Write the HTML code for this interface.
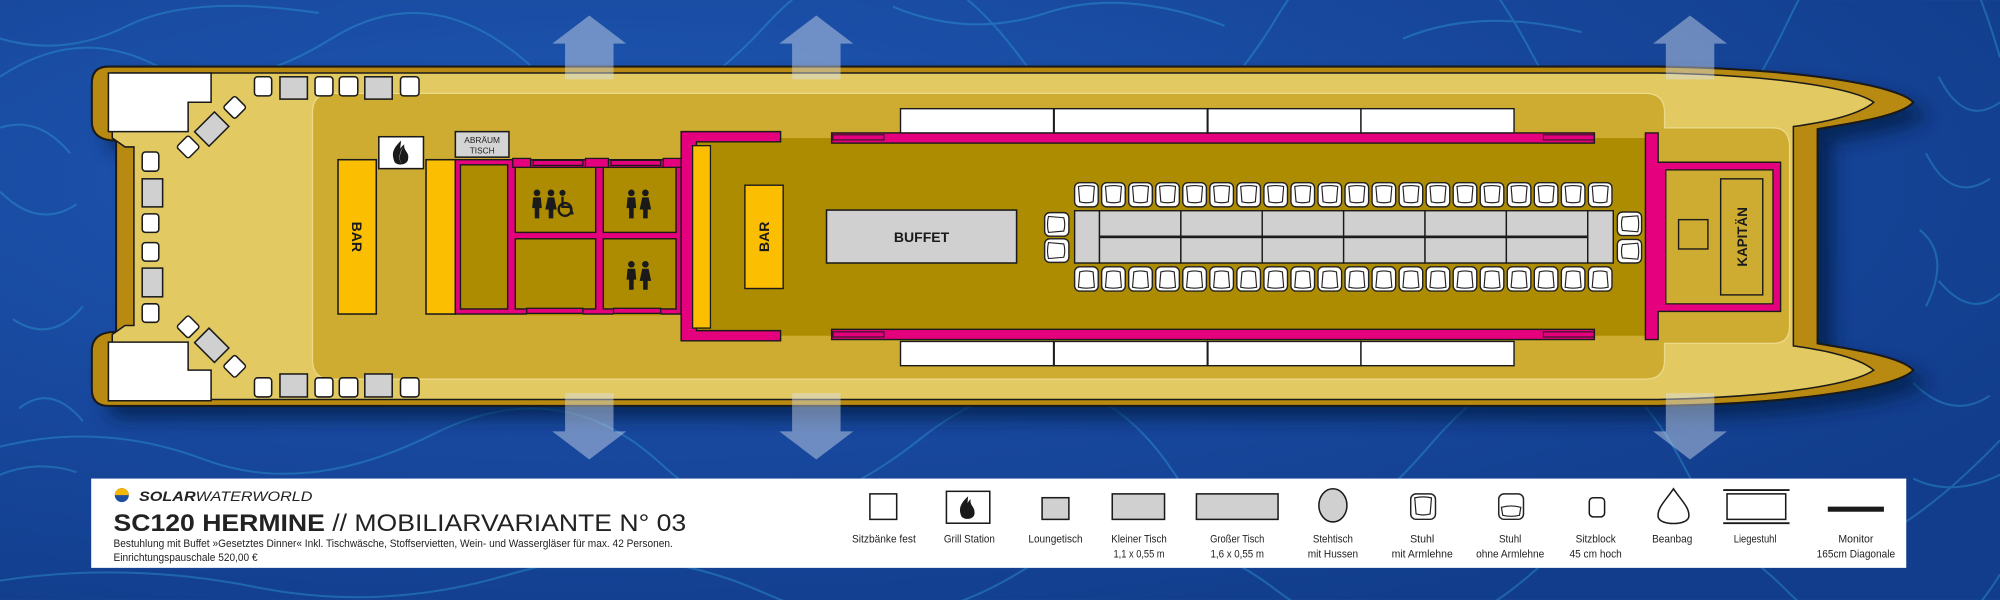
<!DOCTYPE html>
<html><head><meta charset="utf-8"><style>
html,body{margin:0;padding:0;background:#1a4a9c;width:2000px;height:600px;overflow:hidden;}
svg{display:block}
</style></head><body>
<svg width="2000" height="600" viewBox="0 0 1568 470" xmlns="http://www.w3.org/2000/svg" font-family="Liberation Sans, sans-serif">
<defs>
<radialGradient id="w1" cx="30%" cy="30%" r="80%">
<stop offset="0" stop-color="#1f58b4"/><stop offset="0.6" stop-color="#17479c"/><stop offset="1" stop-color="#123d8c"/>
</radialGradient>
<filter id="sh" x="-5%" y="-10%" width="115%" height="130%"><feGaussianBlur stdDeviation="7"/></filter>
<g id="ch">
<rect x="0" y="0" width="18.5" height="19" rx="4" fill="#fff" stroke="#222" stroke-width="1.1"/>
<path d="M3,3 Q9.25,1.5 15.5,3 L14.5,15 Q9.25,16.5 4,15 Z" fill="#fff" stroke="#222" stroke-width="0.9"/>
</g>
<g id="chs">
<rect x="0" y="0" width="19" height="18.5" rx="4" fill="#fff" stroke="#222" stroke-width="1.1"/>
<path d="M3,3 Q1.5,9.25 3,15.5 L15,14.5 Q16.5,9.25 15,4 Z" fill="#fff" stroke="#222" stroke-width="0.9"/>
</g>
<g id="pp">
<circle cx="0" cy="0" r="2.6" fill="#1a1a1a"/>
<path d="M-3,3.5 H3 L3.8,12 H1.8 V20 H-1.8 V12 H-3.8 Z" fill="#1a1a1a"/>
</g>
<g id="pw">
<circle cx="0" cy="0" r="2.6" fill="#1a1a1a"/>
<path d="M-2.5,3.5 H2.5 L4.5,13 H1.8 V20 H-1.8 V13 H-4.5 Z" fill="#1a1a1a"/>
</g>
</defs>
<rect width="1568" height="470" fill="url(#w1)"/>
<g fill="none" stroke="#2fa0d8" stroke-width="1.6" opacity="0.4">
<path d="M0,60 Q60,20 120,50 T260,30 T420,55 T600,20 T800,45 T1000,15 T1200,40 T1400,20 T1568,45"/>
<path d="M0,30 Q50,45 100,20 T250,10 M700,5 Q760,30 820,10 T960,20 M1100,30 Q1160,5 1240,25"/>
<path d="M0,350 Q80,330 160,360 T340,340 T520,365 T720,345 T920,370 T1120,350 T1320,365 T1568,345"/>
<path d="M1510,120 Q1530,160 1560,140 M1520,220 Q1545,250 1568,230 M1500,300 Q1530,330 1560,310 M1520,60 Q1540,100 1568,80 M1505,180 Q1530,200 1510,240"/>
<path d="M0,150 Q30,180 60,160 M10,250 Q40,270 65,240 M0,100 Q30,90 55,120 M15,320 Q40,300 65,330"/>
<path d="M0,455 Q100,440 200,460 T400,450 T600,465 T800,448 T1000,462 T1200,450 T1400,462 T1568,450"/>
<path d="M0,372 Q30,360 60,370 M1500,375 Q1530,390 1568,372"/>
</g>
<path d="M85,52 H1300 C1420,54 1490,68 1500,80 C1490,92 1440,98 1425,101 V269 C1440,272 1490,278 1500,290 C1490,302 1420,316 1300,318 H85 Q72,318 72,305 V275 Q72,260 91,260 V110 Q72,110 72,95 V65 Q72,52 85,52 Z" transform="translate(12,10)" fill="#061a45" opacity="0.75" filter="url(#sh)"/>
<path d="M85,52 H1300 C1420,54 1490,68 1500,80 C1490,92 1440,98 1425,101 V269 C1440,272 1490,278 1500,290 C1490,302 1420,316 1300,318 H85 Q72,318 72,305 V275 Q72,260 91,260 V110 Q72,110 72,95 V65 Q72,52 85,52 Z" fill="#b98a12" stroke="#1a1a1a" stroke-width="1.6"/>
<path d="M88,57 H1300 C1400,59 1455,70 1469,80 C1455,92 1420,97 1406,99 V271 C1420,273 1455,278 1469,290 C1455,300 1400,311 1300,313 H88 V262 L98,255 H105 V115 H98 L88,108 Z" fill="#e2c962" stroke="#1a1a1a" stroke-width="1.2"/>
<path d="M260,73 H1290 Q1305,73 1305,88 V100 H1390 Q1403,100 1403,115 V256 Q1403,269 1390,269 H1305 V282 Q1305,297 1290,297 H260 Q245,297 245,282 V88 Q245,73 260,73 Z" fill="#ceac32" stroke="#ecd98a" stroke-width="1"/>
<rect x="540" y="108" width="756" height="155" fill="#ae8c02"/>
<g fill="#d6e0ee" opacity="0.45">
<path d="M462,12 L491,34 H481 V62 H443 V34 H433 Z"/>
<path d="M640,12 L669,34 H659 V62 H621 V34 H611 Z"/>
<path d="M1325,12 L1354,34 H1344 V62 H1306 V34 H1296 Z"/>
<path d="M462,360 L491,338 H481 V308 H443 V338 H433 Z"/>
<path d="M640,360 L669,338 H659 V308 H621 V338 H611 Z"/>
<path d="M1325,360 L1354,338 H1344 V308 H1306 V338 H1296 Z"/>
</g>
<g stroke="#1a1a1a" stroke-width="1.2">
<path d="M85,57 H165.5 V80 H147.5 V103 H85 Z" fill="#fff"/>
<path d="M85,268 H147.5 V290 H165.5 V314 H85 Z" fill="#fff"/>
<rect x="199.5" y="60" width="13.5" height="15" rx="2.5" fill="#fff"/>
<rect x="219.5" y="60" width="21.5" height="17.5" fill="#d0d0d0"/>
<rect x="247" y="60" width="14" height="15" rx="2.5" fill="#fff"/>
<rect x="266" y="60" width="14.5" height="15" rx="2.5" fill="#fff"/>
<rect x="286" y="60" width="21.5" height="17.5" fill="#d0d0d0"/>
<rect x="314" y="60" width="14.5" height="15" rx="2.5" fill="#fff"/>
<rect x="199.5" y="296" width="13.5" height="15" rx="2.5" fill="#fff"/>
<rect x="219.5" y="293" width="21.5" height="18" fill="#d0d0d0"/>
<rect x="247" y="296" width="14" height="15" rx="2.5" fill="#fff"/>
<rect x="266" y="296" width="14.5" height="15" rx="2.5" fill="#fff"/>
<rect x="286" y="293" width="21.5" height="18" fill="#d0d0d0"/>
<rect x="314" y="296" width="14.5" height="15" rx="2.5" fill="#fff"/>
<rect x="111.5" y="119" width="13" height="15" rx="2.5" fill="#fff"/>
<rect x="111.5" y="140" width="16" height="22" fill="#d0d0d0"/>
<rect x="111.5" y="167.5" width="13" height="14.5" rx="2.5" fill="#fff"/>
<rect x="111.5" y="190" width="13" height="14.5" rx="2.5" fill="#fff"/>
<rect x="111.5" y="210" width="16" height="22.5" fill="#d0d0d0"/>
<rect x="111.5" y="238" width="13" height="14.5" rx="2.5" fill="#fff"/>
<rect x="-6.5" y="-6.5" width="13" height="13" rx="2" fill="#fff" transform="translate(184,84) rotate(45)"/>
<rect x="-8" y="-11" width="16" height="22" fill="#d0d0d0" transform="translate(166,101) rotate(45)"/>
<rect x="-6.5" y="-6.5" width="13" height="13" rx="2" fill="#fff" transform="translate(147.5,115) rotate(45)"/>
<rect x="-6.5" y="-6.5" width="13" height="13" rx="2" fill="#fff" transform="translate(147.5,256) rotate(45)"/>
<rect x="-8" y="-11" width="16" height="22" fill="#d0d0d0" transform="translate(166,270.5) rotate(-45)"/>
<rect x="-6.5" y="-6.5" width="13" height="13" rx="2" fill="#fff" transform="translate(184,287) rotate(45)"/>
<rect x="265" y="125" width="30" height="121" fill="#fbbe00"/>
<rect x="334" y="125" width="23" height="121" fill="#fbbe00"/>
<rect x="297" y="107" width="35" height="25" fill="#fff"/>
<rect x="357" y="103" width="42" height="20" fill="#d4d4d4"/>
</g>
<path d="M314.5,110 C306,118 308,122 309,126 C310,130 320,130 320,124 C321,119 316,118 317,113 C313,116 312,119 313,122 Z" fill="#1a1a1a"/>
<path d="M316,115 C312,121 313,126 315,128 C312,124 314,119 316,115 Z" fill="#fff"/>
<text x="378" y="112" font-size="6.5" text-anchor="middle" fill="#222" textLength="28" lengthAdjust="spacingAndGlyphs">ABRÄUM</text>
<text x="378" y="120" font-size="6.5" text-anchor="middle" fill="#222">TISCH</text>
<text transform="translate(280,185.5) rotate(90)" font-size="11" font-weight="bold" text-anchor="middle" fill="#1a1a1a" dy="4">BAR</text>
<g stroke="#1a1a1a" stroke-width="1.1">
<rect x="357" y="125" width="177" height="121" fill="#e5007d"/>
<rect x="361" y="129" width="37" height="113" fill="#ae8c02"/>
<rect x="404" y="131" width="63" height="51" fill="#ae8c02"/>
<rect x="473" y="131" width="57" height="51" fill="#ae8c02"/>
<rect x="404" y="187" width="63" height="55" fill="#ae8c02"/>
<rect x="473" y="187" width="57" height="55" fill="#ae8c02"/>
</g>
<g fill="#e5007d" stroke="#1a1a1a" stroke-width="1">
<rect x="402" y="124" width="14" height="7"/><rect x="418" y="125.5" width="39" height="4"/><rect x="459" y="124" width="18" height="7"/><rect x="479" y="125.5" width="39" height="4"/><rect x="520" y="124" width="14" height="7"/>
</g>
<rect x="413" y="240" width="44" height="7" fill="#ae8c02"/>
<rect x="481" y="240" width="37" height="7" fill="#ae8c02"/>
<g fill="#e5007d" stroke="#1a1a1a" stroke-width="1"><rect x="413" y="241.5" width="44" height="4"/><rect x="481" y="241.5" width="37" height="4"/></g>
<use href="#pp" x="421" y="151"/><use href="#pw" x="432" y="151"/>
<g stroke="#1a1a1a" fill="none" stroke-width="1.8"><circle cx="443" cy="164" r="5"/><path d="M441,154 V162 H447 L449,168"/></g><circle cx="441" cy="151" r="2.4" fill="#1a1a1a"/>
<use href="#pp" x="495" y="151"/><use href="#pw" x="506" y="151"/>
<use href="#pp" x="495" y="207"/><use href="#pw" x="506" y="207"/>
<g fill="#e5007d" stroke="#1a1a1a" stroke-width="1.1">
<path d="M534,103 H612 V111 H546 V259 H612 V267 H534 Z"/>
<rect x="652" y="104" width="598" height="8"/>
<rect x="652" y="258" width="598" height="8"/>
<path d="M1290,104 H1300 V127 H1396 V244 H1300 V266 H1290 Z"/>
</g>
<g fill="none" stroke="#1a1a1a" stroke-width="0.8"><rect x="653" y="105.5" width="40" height="4"/><rect x="653" y="260" width="40" height="4"/><rect x="1210" y="105.5" width="40" height="4"/><rect x="1210" y="260" width="40" height="4"/></g>
<rect x="1306" y="133" width="84" height="105" fill="#ceac32" stroke="#1a1a1a" stroke-width="1"/>
<rect x="1349" y="140" width="33" height="91" fill="none" stroke="#1a1a1a" stroke-width="1.1"/>
<rect x="1316" y="172" width="23" height="23" fill="none" stroke="#1a1a1a" stroke-width="1.1"/>
<text transform="translate(1365.5,185.5) rotate(-90)" font-size="10.5" font-weight="bold" text-anchor="middle" fill="#1a1a1a" dy="4">KAPITÄN</text>
<rect x="543" y="114" width="14" height="143" fill="#fbbe00" stroke="#1a1a1a" stroke-width="1"/>
<rect x="584" y="145" width="30" height="81" fill="#fbbe00" stroke="#1a1a1a" stroke-width="1.1"/>
<text transform="translate(599,185.5) rotate(-90)" font-size="11" font-weight="bold" text-anchor="middle" fill="#1a1a1a" dy="4">BAR</text>
<g fill="#fff" stroke="#1a1a1a" stroke-width="1.1">
<rect x="706" y="85" width="120" height="19"/><rect x="826.5" y="85" width="120" height="19"/><rect x="947" y="85" width="120" height="19"/><rect x="1067" y="85" width="120" height="19"/>
<rect x="706" y="267.5" width="120" height="19"/><rect x="826.5" y="267.5" width="120" height="19"/><rect x="947" y="267.5" width="120" height="19"/><rect x="1067" y="267.5" width="120" height="19"/>
</g>
<rect x="648" y="164.5" width="149" height="41.5" fill="#d0d0d0" stroke="#1a1a1a" stroke-width="1.2"/>
<text x="722.5" y="189.5" font-size="11" font-weight="bold" text-anchor="middle" fill="#1a1a1a">BUFFET</text>
<g fill="#d0d0d0" stroke="#1a1a1a" stroke-width="1.1">
<rect x="842.5" y="165" width="19.5" height="41"/>
<rect x="862" y="165" width="63.8" height="20"/><rect x="925.8" y="165" width="63.8" height="20"/><rect x="989.6" y="165" width="63.8" height="20"/><rect x="1053.4" y="165" width="63.8" height="20"/><rect x="1117.2" y="165" width="63.8" height="20"/><rect x="1181" y="165" width="63.8" height="20"/>
<rect x="862" y="186" width="63.8" height="20"/><rect x="925.8" y="186" width="63.8" height="20"/><rect x="989.6" y="186" width="63.8" height="20"/><rect x="1053.4" y="186" width="63.8" height="20"/><rect x="1117.2" y="186" width="63.8" height="20"/><rect x="1181" y="186" width="63.8" height="20"/>
<rect x="1244.8" y="165" width="20" height="41"/>
</g>
<g id="row">
<use href="#ch" x="842.5" y="143"/><use href="#ch" x="863.7" y="143"/><use href="#ch" x="884.9" y="143"/><use href="#ch" x="906.1" y="143"/><use href="#ch" x="927.3" y="143"/><use href="#ch" x="948.5" y="143"/><use href="#ch" x="969.7" y="143"/><use href="#ch" x="990.9" y="143"/><use href="#ch" x="1012.1" y="143"/><use href="#ch" x="1033.3" y="143"/><use href="#ch" x="1054.5" y="143"/><use href="#ch" x="1075.7" y="143"/><use href="#ch" x="1096.9" y="143"/><use href="#ch" x="1118.1" y="143"/><use href="#ch" x="1139.3" y="143"/><use href="#ch" x="1160.5" y="143"/><use href="#ch" x="1181.7" y="143"/><use href="#ch" x="1202.9" y="143"/><use href="#ch" x="1224.1" y="143"/><use href="#ch" x="1245.3" y="143"/>
</g>
<use href="#row" transform="translate(0,371) scale(1,-1)"/>
<use href="#chs" x="819" y="166.5"/><use href="#chs" x="819" y="187"/>
<use href="#chs" transform="translate(1287,166) scale(-1,1)"/><use href="#chs" transform="translate(1287,187.5) scale(-1,1)"/>
<rect x="71.5" y="375" width="1423" height="70" fill="#fff"/>
<circle cx="95.5" cy="388" r="5.5" fill="#1f4ea0"/>
<path d="M90,388 A5.5,5.5 0 0 1 101,388 Z" fill="#f5b800"/>
<text x="109" y="392.5" font-size="10.5" font-style="italic" fill="#222" textLength="136" lengthAdjust="spacingAndGlyphs"><tspan font-weight="bold">SOLAR</tspan>WATERWORLD</text>
<text x="89" y="416" font-size="18.5" fill="#222" textLength="449" lengthAdjust="spacingAndGlyphs"><tspan font-weight="bold">SC120 HERMINE</tspan> // MOBILIARVARIANTE N° 03</text>
<text x="89" y="428.5" font-size="8.5" fill="#222" textLength="438.5" lengthAdjust="spacingAndGlyphs">Bestuhlung mit Buffet »Gesetztes Dinner« Inkl. Tischwäsche, Stoffservietten, Wein- und Wassergläser für max. 42 Personen.</text>
<text x="89" y="439.5" font-size="8.5" fill="#222" textLength="113" lengthAdjust="spacingAndGlyphs">Einrichtungspauschale 520,00 €</text>
<g stroke="#1a1a1a" stroke-width="1.2">
<rect x="682" y="387" width="21" height="20" fill="#fff"/>
<rect x="742" y="385" width="34" height="25" fill="#fff"/>
<rect x="817" y="390" width="21" height="17" fill="#d0d0d0"/>
<rect x="872" y="387" width="41" height="20" fill="#d0d0d0"/>
<rect x="938" y="387" width="64" height="20" fill="#d0d0d0"/>
<ellipse cx="1045" cy="396" rx="11" ry="13" fill="#d0d0d0"/>
<rect x="1246" y="390" width="12" height="15" rx="3" fill="#fff"/>
<path d="M1312,383 C1318,392 1325,398 1324,405 C1323,412 1301,412 1300,405 C1299,398 1306,392 1312,383 Z" fill="#fff"/>
<rect x="1354" y="387" width="46" height="20" fill="#fff"/>
</g>
<g stroke="#1a1a1a" stroke-width="1.5"><line x1="1351" y1="384" x2="1403" y2="384"/><line x1="1351" y1="410" x2="1403" y2="410"/></g>
<rect x="1433" y="397" width="44" height="4" fill="#1a1a1a"/>
<path d="M759,389 C751,396 752,401 754,405 C757,408 765,407 764,401 C764,397 760,396 761,391 C758,394 757,397 758,400 Z" fill="#1a1a1a"/>
<use href="#ch" transform="translate(1106,387) scale(1.05)"/>
<g transform="translate(1175,387) scale(1.05)"><rect x="0" y="0" width="18.5" height="19" rx="4" fill="#fff" stroke="#222" stroke-width="1.1"/><path d="M2,10 Q9.25,8 16.5,10 L15.5,16 Q9.25,17.5 3,16 Z" fill="#fff" stroke="#222" stroke-width="0.9"/></g>
<g font-size="9" fill="#222" text-anchor="middle">
<text x="693" y="425" textLength="50" lengthAdjust="spacingAndGlyphs">Sitzbänke fest</text>
<text x="760" y="425" textLength="40" lengthAdjust="spacingAndGlyphs">Grill Station</text>
<text x="827.5" y="425" textLength="42.5" lengthAdjust="spacingAndGlyphs">Loungetisch</text>
<text x="893" y="425" textLength="43.5" lengthAdjust="spacingAndGlyphs">Kleiner Tisch</text>
<text x="893" y="437" textLength="40" lengthAdjust="spacingAndGlyphs">1,1 x 0,55 m</text>
<text x="970" y="425" textLength="42.5" lengthAdjust="spacingAndGlyphs">Großer Tisch</text>
<text x="970" y="437" textLength="42" lengthAdjust="spacingAndGlyphs">1,6 x 0,55 m</text>
<text x="1045" y="425" textLength="31.5" lengthAdjust="spacingAndGlyphs">Stehtisch</text>
<text x="1045" y="437" textLength="39.5" lengthAdjust="spacingAndGlyphs">mit Hussen</text>
<text x="1115" y="425" textLength="19" lengthAdjust="spacingAndGlyphs">Stuhl</text>
<text x="1115" y="437" textLength="48" lengthAdjust="spacingAndGlyphs">mit Armlehne</text>
<text x="1184" y="425" textLength="17.5" lengthAdjust="spacingAndGlyphs">Stuhl</text>
<text x="1184" y="437" textLength="53.5" lengthAdjust="spacingAndGlyphs">ohne Armlehne</text>
<text x="1251" y="425" textLength="31.5" lengthAdjust="spacingAndGlyphs">Sitzblock</text>
<text x="1251" y="437" textLength="41" lengthAdjust="spacingAndGlyphs">45 cm hoch</text>
<text x="1311" y="425" textLength="31.5" lengthAdjust="spacingAndGlyphs">Beanbag</text>
<text x="1376" y="425" textLength="33.5" lengthAdjust="spacingAndGlyphs">Liegestuhl</text>
<text x="1455" y="425" textLength="27.5" lengthAdjust="spacingAndGlyphs">Monitor</text>
<text x="1455" y="437" textLength="61.5" lengthAdjust="spacingAndGlyphs">165cm Diagonale</text>
</g>
</svg>
</body></html>
